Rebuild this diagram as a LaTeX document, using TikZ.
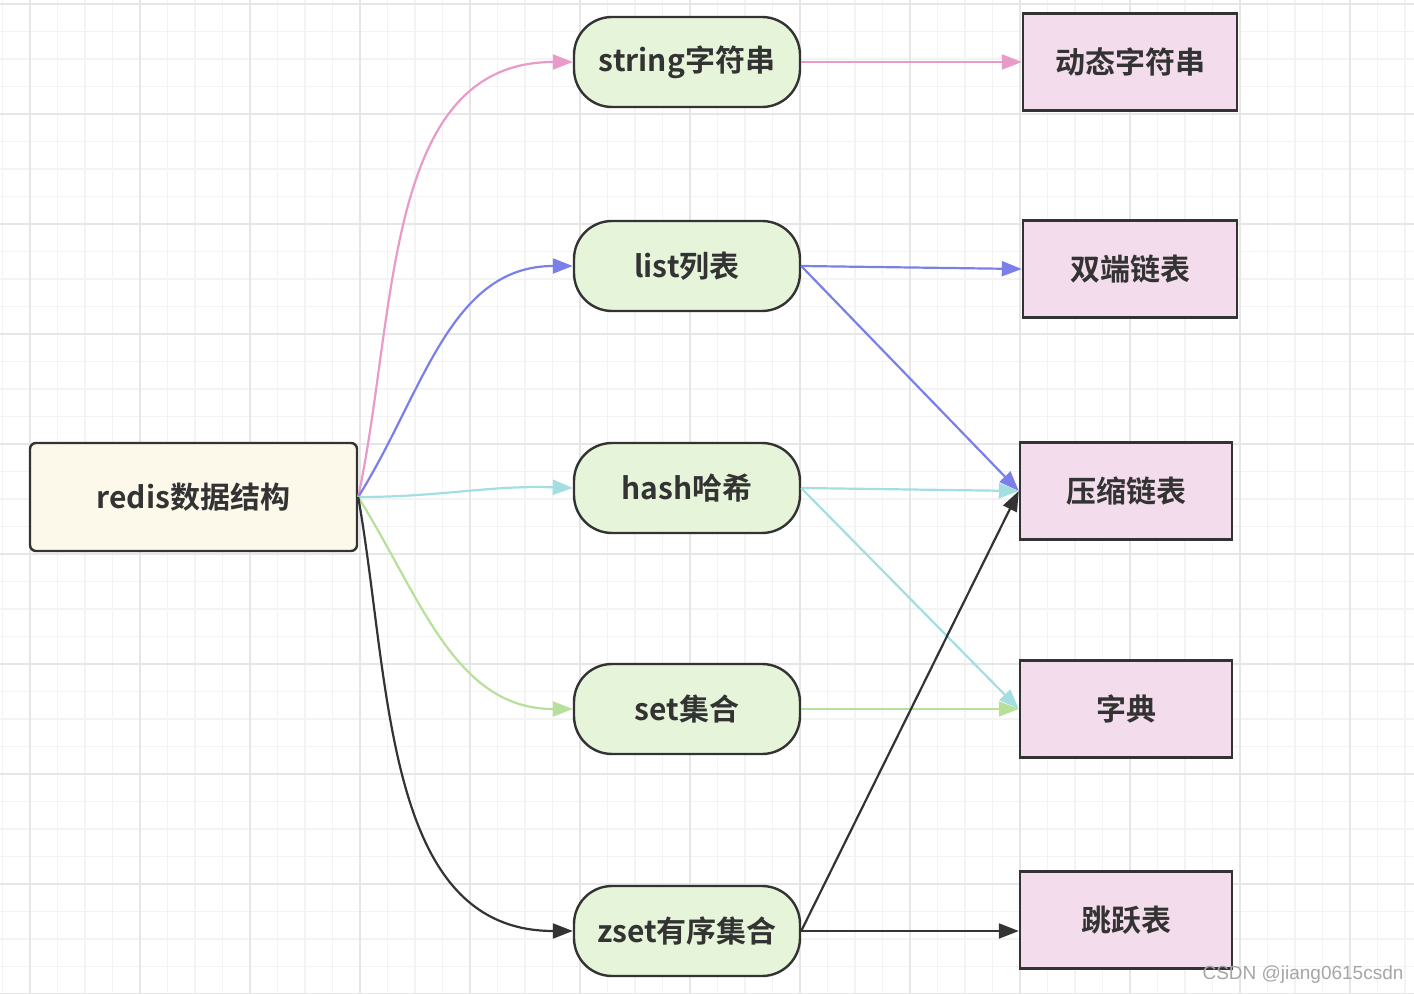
\documentclass[tikz,border=0pt]{standalone}
\usepackage{fontspec}
\usepackage{xcolor}
\newfontfamily\cjk{Noto Sans CJK SC}[BoldFont={Noto Sans CJK SC Bold}]
\setsansfont{Liberation Sans}
\usetikzlibrary{arrows.meta, positioning}

\definecolor{inkdark}{HTML}{333333}
\definecolor{rootfill}{HTML}{FCF9EA}
\definecolor{typefill}{HTML}{E6F5DA}
\definecolor{implfill}{HTML}{F3DCEB}
\definecolor{pinkline}{HTML}{E89BC8}
\definecolor{blueline}{HTML}{7B80E8}
\definecolor{cyanline}{HTML}{A3DEE0}
\definecolor{greenline}{HTML}{B6E09B}
\definecolor{minorgrid}{HTML}{F3F3F3}
\definecolor{majorgrid}{HTML}{E6E6E6}

\tikzset{
    boxtext/.style={font=\cjk\bfseries\fontsize{15}{18}\selectfont, text=inkdark},
    rootbox/.style={boxtext, draw=inkdark, line width=1.2pt, fill=rootfill, rounded corners=3pt,
        minimum width=163.5pt, minimum height=54pt},
    typebox/.style={boxtext, draw=inkdark, line width=1.2pt, fill=typefill, rounded corners=19pt,
        minimum width=113pt, minimum height=45pt},
    implbox/.style={boxtext, draw=inkdark, line width=1.2pt, fill=implfill,
        minimum width=106pt, minimum height=48.5pt},
    link/.style={line width=1.1pt, -{Triangle[length=10pt,width=7.5pt]}},
}

\begin{document}
\begin{tikzpicture}[x=0.5pt, y=-0.5pt]
    \useasboundingbox (0,0) rectangle (1414,994);
    \fill[white] (0,0) rectangle (1414,994);

    % background grid
    \foreach \gx in {0,...,51}
        \draw[minorgrid, line width=0.8pt] ({2.5+27.5*\gx},0) -- ({2.5+27.5*\gx},994);
    \foreach \gy in {0,...,36}
        \draw[minorgrid, line width=0.8pt] (0,{4+27.5*\gy}) -- (1414,{4+27.5*\gy});
    \foreach \gx in {0,...,12}
        \draw[majorgrid, line width=1pt] ({30+110*\gx},0) -- ({30+110*\gx},994);
    \foreach \gy in {0,...,9}
        \draw[majorgrid, line width=1pt] (0,{4+110*\gy}) -- (1414,{4+110*\gy});

    % nodes
    \node[rootbox] (redis) at (193.5,497) {redis数据结构};

    \node[typebox] (string) at (687,62) {string字符串};
    \node[typebox] (list) at (687,266) {list列表};
    \node[typebox] (hash) at (687,488) {hash哈希};
    \node[typebox] (set) at (687,709) {set集合};
    \node[typebox] (zset) at (687,931) {zset有序集合};

    \node[implbox, minimum width=107pt] (sds) at (1130,62) {动态字符串};
    \node[implbox, minimum width=107pt] (linkedlist) at (1130,269) {双端链表};
    \node[implbox] (ziplist) at (1126,491) {压缩链表};
    \node[implbox] (dict) at (1126,709) {字典};
    \node[implbox] (skiplist) at (1126,920) {跳跃表};

    % redis -> types
    \draw[link, pinkline] (redis.east) to[out=78, in=180] (string.west);
    \draw[link, blueline] (redis.east) to[out=58, in=180] (list.west);
    \draw[link, cyanline] (redis.east) to[out=0, in=178] (hash.west);
    \draw[link, greenline] (redis.east) to[out=-58, in=180] (set.west);
    \draw[link, inkdark] (redis.east) to[out=-80, in=180] (zset.west);

    % types -> implementations
    \draw[link, pinkline] (string.east) -- (sds.west);
    \draw[link, blueline] (list.east) -- (linkedlist.west);
    \draw[link, blueline] (list.east) -- (ziplist.west);
    \draw[link, cyanline] (hash.east) -- (ziplist.west);
    \draw[link, cyanline] (hash.east) -- (dict.west);
    \draw[link, greenline] (set.east) -- (dict.west);
    \draw[link, inkdark] (zset.east) -- (ziplist.west);
    \draw[link, inkdark] (zset.east) -- (zset.east -| skiplist.west);

    \node[font=\sffamily\fontsize{9.5}{11}\selectfont, text=black!35] (mark) at (1303,975) {CSDN @jiang0615csdn};
\end{tikzpicture}
\end{document}
